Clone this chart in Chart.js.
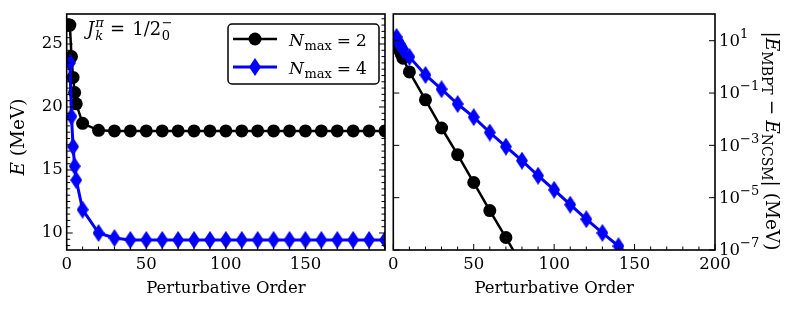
<!DOCTYPE html>
<html>
<head>
<meta charset="utf-8">
<script src="https://cdn.jsdelivr.net/npm/chart.js@4.4.1/dist/chart.umd.min.js"></script>
<style>
    html, body { margin: 0; padding: 0; background: #fff; }
    #wrap { position: relative; width: 798px; height: 313px; }
    #left { position: absolute; left: 0; top: 0; }
    #right { position: absolute; left: 370px; top: 0; }
</style>
</head>
<body>
<div id="wrap">
    <canvas id="left" width="392" height="313"></canvas>
    <canvas id="right" width="428" height="313"></canvas>
</div>
<script>
// perturbative orders shared by the energy panel
const orders = [2, 3, 4, 5, 6, 10, 20, 30, 40, 50, 60, 70, 80, 90, 100, 110, 120, 130, 140, 150, 160, 170, 180, 190, 200];
// E (MeV), Nmax = 2 and Nmax = 4
const energyN2 = [26.5, 24.0, 22.35, 21.15, 20.25, 18.7, 18.15, 18.1, 18.1, 18.1, 18.1, 18.1, 18.1, 18.1, 18.1, 18.1, 18.1, 18.1, 18.1, 18.1, 18.1, 18.1, 18.1, 18.1, 18.1];
const energyN4 = [23.5, 19.25, 16.85, 15.3, 14.2, 11.85, 10.0, 9.6, 9.45, 9.45, 9.45, 9.45, 9.45, 9.45, 9.45, 9.45, 9.45, 9.45, 9.45, 9.45, 9.45, 9.45, 9.45, 9.45, 9.45];

// |E_MBPT - E_NCSM| (MeV)
const diffOrdersN2 = [2, 3, 4, 5, 6, 10, 20, 30, 40, 50, 60, 70, 80];
const diffN2 = [8.4, 5.9, 4.25, 3.05, 2.15, 0.64, 0.055, 4.6e-3, 4.4e-4, 3.8e-5, 3.2e-6, 3.0e-7, 2.6e-8];
const diffOrdersN4 = [2, 3, 4, 5, 6, 10, 20, 30, 40, 50, 60, 70, 80, 90, 100, 110, 120, 130, 140, 150];
const diffN4 = [14.0, 9.8, 7.4, 5.85, 4.75, 2.41, 0.49, 0.14, 0.038, 0.012, 3.1e-3, 8.9e-4, 2.6e-4, 6.9e-5, 2.0e-5, 5.4e-6, 1.5e-6, 4.5e-7, 1.4e-7, 4.0e-8];

// tick labels
const xLabelsLeft = [0, 50, 100, 150];
const xLabelsRight = [0, 50, 100, 150, 200];
const yLabelsLeft = [10, 15, 20, 25];
const yLabelsRightExp = [1, -1, -3, -5, -7];

const SERIF = '"DejaVu Serif", "Liberation Serif", serif';
const FS = 16.5;
const FS_TITLE = 18.5;
const FS_SMALL = 13;
const font = (size, italic) => `${italic ? 'italic ' : ''}${size}px ${SERIF}`;

// thin blue diamond marker, like matplotlib 'd'
function makeDiamond(w, h, color) {
    const c = document.createElement('canvas');
    c.width = w;
    c.height = h;
    const g = c.getContext('2d');
    g.fillStyle = color;
    g.beginPath();
    g.moveTo(w / 2, 0);
    g.lineTo(w, h / 2);
    g.lineTo(w / 2, h);
    g.lineTo(0, h / 2);
    g.closePath();
    g.fill();
    return c;
}
const diamond = makeDiamond(12, 18, '#0000ff');

// draws a run of text pieces: [text, font, dy, advance?, extraGap]
function drawRich(ctx, parts, x, y) {
    let cx = x;
    parts.forEach(p => {
        ctx.font = p[1];
        ctx.fillText(p[0], cx, y + (p[2] || 0));
        if (p[3] !== false) cx += ctx.measureText(p[0]).width + (p[4] || 0);
    });
    return cx - x;
}
function richWidth(ctx, parts) {
    let w = 0;
    parts.forEach(p => {
        ctx.font = p[1];
        if (p[3] !== false) w += ctx.measureText(p[0]).width + (p[4] || 0);
    });
    return w;
}

function line(ctx, x1, y1, x2, y2) {
    ctx.beginPath();
    ctx.moveTo(x1, y1);
    ctx.lineTo(x2, y2);
    ctx.stroke();
}

// frame + inward ticks
const frameTicks = {
    id: 'frameTicks',
    afterDatasetsDraw(chart, args, opts) {
        const { ctx, chartArea: a, scales } = chart;
        ctx.save();
        ctx.strokeStyle = '#000';
        ctx.lineWidth = 1;
        for (let v = 0; v <= 200; v += 10) {
            const px = scales.x.getPixelForValue(v);
            line(ctx, px, a.bottom, px, a.bottom - (v % 50 === 0 ? 6 : 3.5));
        }
        opts.yTicks.forEach(t => {
            const py = scales.y.getPixelForValue(t.v);
            const len = t.major ? 6 : 3.5;
            line(ctx, a.left, py, a.left + len, py);
            line(ctx, a.right, py, a.right - len, py);
        });
        ctx.lineWidth = 1.6;
        ctx.strokeRect(a.left, a.top, a.right - a.left, a.bottom - a.top);
        ctx.restore();
    }
};

const leftYTicks = [];
for (let v = 9; v <= 27; v += 0.5) leftYTicks.push({ v, major: v % 5 === 0 });
const rightYTicks = yLabelsRightExp.map(e => ({ v: Math.pow(10, e), major: true }));

// legend, annotation and y title of the energy panel
const leftText = {
    id: 'leftText',
    afterDraw(chart) {
        const { ctx, chartArea: a } = chart;
        ctx.save();
        ctx.fillStyle = '#000';
        ctx.textBaseline = 'alphabetic';

        // y title
        ctx.translate(18, 137);
        ctx.rotate(-Math.PI / 2);
        const yParts = [['E', font(FS_TITLE, true)], [' (MeV)', font(FS_TITLE)]];
        const w = richWidth(ctx, yParts);
        drawRich(ctx, yParts, -w / 2, 6);
        ctx.setTransform(1, 0, 0, 1, 0, 0);

        // J^pi_k = 1/2^-_0
        drawRich(ctx, [
            ['J', font(18, true), 0, true, 1],
            ['π', font(FS_SMALL, true), -8, false],
            ['k', font(FS_SMALL, true), 5, true, 7],
            ['=', font(18), 0, true, 7],
            ['1/2', font(18), 0, true, 0.5],
            ['−', font(FS_SMALL), -8, false],
            ['0', font(FS_SMALL), 5]
        ], 87, 35);

        // legend box
        ctx.lineWidth = 1.5;
        ctx.strokeStyle = '#000';
        ctx.fillStyle = '#fff';
        ctx.beginPath();
        ctx.roundRect(228, 24, 151, 60, 4);
        ctx.fill();
        ctx.stroke();

        const rows = [
            { y: 39, color: '#000', width: 2.5, label: '2', marker: 'circle' },
            { y: 67, color: '#0000ff', width: 3, label: '4', marker: 'diamond' }
        ];
        rows.forEach(r => {
            ctx.strokeStyle = r.color;
            ctx.lineWidth = r.width;
            line(ctx, 233, r.y, 277, r.y);
            if (r.marker === 'circle') {
                ctx.fillStyle = r.color;
                ctx.beginPath();
                ctx.arc(255, r.y, 6.5, 0, Math.PI * 2);
                ctx.fill();
            } else {
                ctx.drawImage(diamond, 255 - diamond.width / 2, r.y - diamond.height / 2);
            }
            ctx.fillStyle = '#000';
            drawRich(ctx, [
                ['N', font(17, true), 0, true, 0.5],
                ['max', font(FS_SMALL), 4, true, 5],
                ['=', font(17), 0, true, 5],
                [r.label, font(17)]
            ], 289, r.y + 7);
        });
        ctx.restore();
    }
};

// log labels and y title of the difference panel
const rightText = {
    id: 'rightText',
    afterDraw(chart) {
        const { ctx, chartArea: a, scales } = chart;
        ctx.save();
        ctx.fillStyle = '#000';
        ctx.textBaseline = 'middle';
        yLabelsRightExp.forEach(e => {
            const py = scales.y.getPixelForValue(Math.pow(10, e));
            const exp = e < 0 ? '−' + Math.abs(e) : String(e);
            drawRich(ctx, [['10', font(FS)], [exp, font(FS_SMALL), -7]], a.right + 4, py + 1);
        });

        ctx.textBaseline = 'alphabetic';
        ctx.translate(a.right + 57, 141);
        ctx.rotate(Math.PI / 2);
        const parts = [
            ['|', font(FS_TITLE)],
            ['E', font(FS_TITLE, true)],
            ['MBPT', font(14), 4, true, 5],
            ['−', font(FS_TITLE), 0, true, 5],
            ['E', font(FS_TITLE, true)],
            ['NCSM', font(14), 4],
            ['|', font(FS_TITLE)],
            [' (MeV)', font(FS_TITLE)]
        ];
        const w = richWidth(ctx, parts);
        drawRich(ctx, parts, -w / 2, 6);
        ctx.restore();
    }
};

function xAxis(labels) {
    return {
        type: 'linear',
        min: 0,
        max: 200,
        afterBuildTicks: s => { s.ticks = labels.map(v => ({ value: v })); },
        afterFit: s => { s.height = 63; },
        grid: { display: false, drawTicks: false },
        border: { display: false },
        ticks: { font: { family: SERIF, size: FS }, color: '#000', padding: 5, maxRotation: 0, autoSkip: false },
        title: {
            display: true,
            text: 'Perturbative Order',
            color: '#000',
            font: { family: SERIF, size: FS },
            padding: { top: 0, bottom: 14 }
        }
    };
}

const baseOptions = {
    responsive: false,
    animation: false,
    events: [],
    plugins: { legend: { display: false }, tooltip: { enabled: false } }
};

new Chart(document.getElementById('left'), {
    type: 'line',
    data: {
        datasets: [
            {
                label: 'Nmax = 2',
                data: orders.map((x, i) => ({ x, y: energyN2[i] })),
                borderColor: '#000',
                backgroundColor: '#000',
                borderWidth: 2.5,
                pointRadius: 6.5,
                pointBorderWidth: 0,
                pointBackgroundColor: '#000',
                clip: 0,
                order: 1
            },
            {
                label: 'Nmax = 4',
                data: orders.map((x, i) => ({ x, y: energyN4[i] })),
                borderColor: '#0000ff',
                backgroundColor: '#0000ff',
                borderWidth: 3,
                pointStyle: diamond,
                clip: 0,
                order: 0
            }
        ]
    },
    options: {
        ...baseOptions,
        layout: { padding: { top: 14, right: 3.7, left: 0, bottom: 0 } },
        scales: {
            x: xAxis(xLabelsLeft),
            y: {
                type: 'linear',
                min: 8.65,
                max: 27.38,
                afterBuildTicks: s => { s.ticks = yLabelsLeft.map(v => ({ value: v })); },
                afterFit: s => { s.width = 66.7; },
                grid: { display: false, drawTicks: false },
                border: { display: false },
                ticks: { font: { family: SERIF, size: FS }, color: '#000', padding: 4 }
            }
        },
        plugins: { ...baseOptions.plugins, frameTicks: { yTicks: leftYTicks } }
    },
    plugins: [frameTicks, leftText]
});

new Chart(document.getElementById('right'), {
    type: 'line',
    data: {
        datasets: [
            {
                label: 'Nmax = 2',
                data: diffOrdersN2.map((x, i) => ({ x, y: diffN2[i] })),
                borderColor: '#000',
                backgroundColor: '#000',
                borderWidth: 2.5,
                pointRadius: 6.5,
                pointBorderWidth: 0,
                pointBackgroundColor: '#000',
                clip: 0,
                order: 1
            },
            {
                label: 'Nmax = 4',
                data: diffOrdersN4.map((x, i) => ({ x, y: diffN4[i] })),
                borderColor: '#0000ff',
                backgroundColor: '#0000ff',
                borderWidth: 3,
                pointStyle: diamond,
                clip: 0,
                order: 0
            }
        ]
    },
    options: {
        ...baseOptions,
        layout: { padding: { top: 14, right: 83, left: 23.3, bottom: 0 } },
        scales: {
            x: xAxis(xLabelsRight),
            y: {
                type: 'logarithmic',
                display: false,
                min: 1e-7,
                max: 105
            }
        },
        plugins: { ...baseOptions.plugins, frameTicks: { yTicks: rightYTicks } }
    },
    plugins: [frameTicks, rightText]
});
</script>
</body>
</html>
